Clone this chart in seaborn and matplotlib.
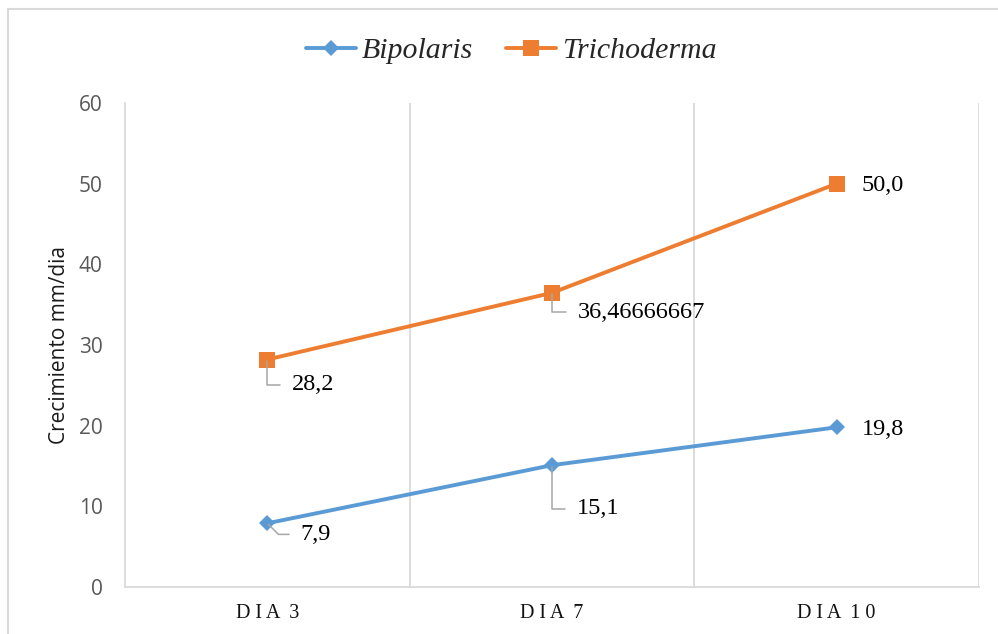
import matplotlib
matplotlib.use("Agg")
import matplotlib.pyplot as plt
from matplotlib.lines import Line2D
from matplotlib.patches import Rectangle
import seaborn as sns
import pandas as pd

# Data
dias = ["DIA 3", "DIA 7", "DIA 10"]
bipolaris = [7.9, 15.1, 19.8]
trichoderma = [28.2, 36.46666667, 50.0]
etiquetas_bipolaris = ["7,9", "15,1", "19,8"]
etiquetas_trichoderma = ["28,2", "36,46666667", "50,0"]
series = ["Bipolaris", "Trichoderma"]

df = pd.DataFrame({
    "dia": dias * 2,
    "crecimiento": bipolaris + trichoderma,
    "serie": [series[0]] * 3 + [series[1]] * 3,
})

sns.set_theme(style="white")
plt.rcParams["font.family"] = ["Open Sans", "DejaVu Sans"]

azul = "#5B9BD5"
naranja = "#ED7D31"
gris = "#D9D9D9"


def espaciar(texto):
    """Letter-spaced version of a category label."""
    return "  ".join(" ".join(palabra) for palabra in texto.split())


fig = plt.figure(figsize=(9.98, 6.34), dpi=100)
ax = fig.add_axes([125 / 998, 1 - 587 / 634, (979 - 125) / 998, (587 - 103) / 634])

sns.lineplot(
    data=df, x="dia", y="crecimiento", hue="serie", style="serie",
    palette={series[0]: azul, series[1]: naranja},
    markers={series[0]: "D", series[1]: "s"}, dashes=False,
    linewidth=2.8, markersize=11, markeredgewidth=0,
    legend=False, ax=ax, sort=False,
)
for ln, ms in zip(ax.lines, [8.5, 12]):
    ln.set_markersize(ms)

ax.set_xlim(-0.5, 2.5)
ax.set_ylim(0, 60)
ax.set_yticks(range(0, 61, 10))
ax.set_xticks(range(len(dias)))
ax.set_xticklabels([espaciar(d) for d in dias], family="Liberation Serif",
                   fontsize=14.5, color="#111111")
ax.set_xticks([0.5, 1.5, 2.5], minor=True)
ax.grid(False)
ax.grid(True, which="minor", axis="x", color=gris, linewidth=1.3)
ax.tick_params(axis="x", which="both", length=0, pad=12)
ax.tick_params(axis="y", length=0, pad=16, labelsize=15, labelcolor="#595959")
ax.set_xlabel("")
ax.set_ylabel("Crecimiento mm/dia", fontsize=15, color="#1a1a1a", labelpad=6.5)

for side in ["top", "right"]:
    ax.spines[side].set_visible(False)
for side in ["left", "bottom"]:
    ax.spines[side].set_color(gris)
    ax.spines[side].set_linewidth(1.3)

# Data labels with leader lines
def etiqueta(x, y, texto, dx, dy, lider=None):
    props = None
    if lider is not None:
        props = dict(arrowstyle="-", color="#A6A6A6", lw=1.1,
                     connectionstyle=f"angle,angleA=0,angleB={lider},rad=0",
                     relpos=(0, 0.5), shrinkA=6, shrinkB=1)
    ax.annotate(texto, xy=(x, y), xytext=(dx, dy), textcoords="offset points",
                ha="left", va="center", fontsize=17.5, family="Liberation Serif",
                color="black", arrowprops=props, zorder=5)

etiqueta(0, trichoderma[0], etiquetas_trichoderma[0], 17.5, -18, 90)
etiqueta(1, trichoderma[1], etiquetas_trichoderma[1], 18.5, -14, 90)
etiqueta(2, trichoderma[2], etiquetas_trichoderma[2], 18, -1.5)
etiqueta(0, bipolaris[0], etiquetas_bipolaris[0], 24, -8, -45)
etiqueta(1, bipolaris[1], etiquetas_bipolaris[1], 18, -31.5, 90)
etiqueta(2, bipolaris[2], etiquetas_bipolaris[2], 18, -1.5)

# Legend
handles = [
    Line2D([], [], color=azul, lw=2.8, marker="D", markersize=8.5, markeredgewidth=0),
    Line2D([], [], color=naranja, lw=2.8, marker="s", markersize=12, markeredgewidth=0),
]
fig.legend(handles, series, loc="center", bbox_to_anchor=(511.5 / 998, 1 - 51 / 634),
           ncol=2, frameon=False, handlelength=1.68, handletextpad=0.2,
           columnspacing=1.1,
           prop={"family": "Liberation Serif", "style": "italic", "size": 21.5})

# Outer chart frame
fig.add_artist(Rectangle((8 / 998, -0.1), 2, 0.1 + 625 / 634, transform=fig.transFigure,
                         fill=False, edgecolor=gris, linewidth=1.5))

fig.savefig("out.png", dpi=100)
